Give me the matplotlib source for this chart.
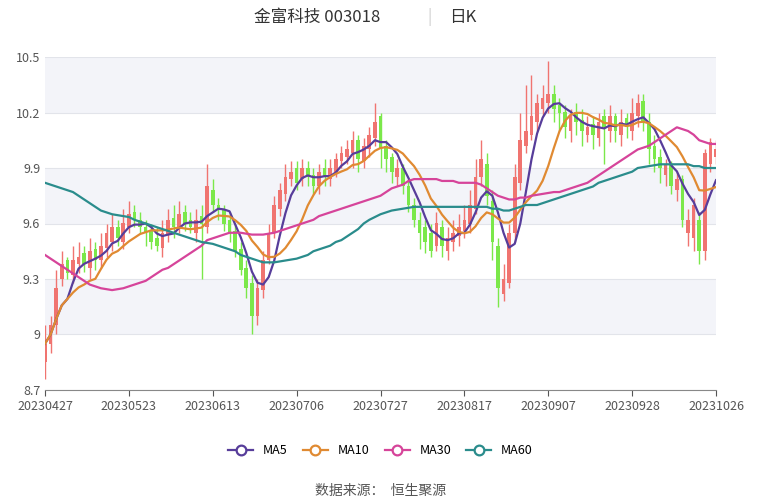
import numpy as np
import pandas as pd
import matplotlib.pyplot as plt
from matplotlib.lines import Line2D

plt.rcParams["font.family"] = ["Noto Sans CJK SC", "DejaVu Sans"]

tick_labels = ["20230427", "20230523", "20230613", "20230706", "20230727",
               "20230817", "20230907", "20230928", "20231026"]

opens = [8.85, 8.95, 9.05, 9.30, 9.40, 9.32,
         9.38, 9.44, 9.36, 9.46, 9.40, 9.47, 9.50, 9.58, 9.50, 9.58,
         9.66, 9.62, 9.58, 9.56, 9.52, 9.47, 9.54, 9.63, 9.57, 9.66,
         9.62, 9.55, 9.64, 9.58, 9.78,
         9.70, 9.68, 9.62, 9.56, 9.46, 9.36, 9.28,
         9.10, 9.24, 9.40, 9.55, 9.68,
         9.76, 9.84, 9.90, 9.84, 9.90, 9.86, 9.80, 9.90,
         9.84, 9.88, 9.94, 9.96, 9.98, 10.05, 9.94, 10.00, 10.06, 10.18,
         10.02, 9.96, 9.85, 9.90, 9.80, 9.70, 9.62, 9.58, 9.55, 9.48,
         9.58, 9.45, 9.50, 9.53, 9.56, 9.60, 9.68, 9.85, 9.92, 9.72,
         9.48, 9.22, 9.28, 9.55, 9.82,
         10.02, 10.08, 10.15, 10.22, 10.25, 10.30, 10.24,
         10.20, 10.10, 10.20, 10.16, 10.08, 10.14, 10.06, 10.18, 10.10, 10.18, 10.08, 10.17,
         10.10, 10.18, 10.26, 10.15, 10.02, 9.96,
         9.86, 9.92, 9.78, 9.84, 9.55, 9.52, 9.62, 9.45, 9.92, 9.96]
closes = [8.95, 9.05, 9.25, 9.38, 9.33, 9.40,
          9.42, 9.38, 9.45, 9.40, 9.48, 9.55, 9.58, 9.52, 9.60, 9.65,
          9.62, 9.58, 9.55, 9.50, 9.48, 9.55, 9.62, 9.58, 9.65, 9.60,
          9.58, 9.62, 9.60, 9.80, 9.70,
          9.68, 9.60, 9.55, 9.45, 9.35, 9.25, 9.10,
          9.25, 9.40, 9.55, 9.70, 9.78,
          9.85, 9.88, 9.82, 9.90, 9.85, 9.80, 9.88, 9.85,
          9.90, 9.95, 9.98, 10.00, 10.05, 9.95, 10.02, 10.08, 10.15, 10.00,
          9.95, 9.88, 9.90, 9.80, 9.70, 9.62, 9.55, 9.50, 9.45, 9.60,
          9.48, 9.52, 9.55, 9.58, 9.62, 9.70, 9.85, 9.95, 9.75, 9.50,
          9.25, 9.30, 9.55, 9.85, 10.05,
          10.10, 10.18, 10.25, 10.28, 10.30, 10.22, 10.20,
          10.12, 10.18, 10.15, 10.10, 10.12, 10.08, 10.15, 10.12, 10.18, 10.10, 10.15, 10.12,
          10.20, 10.25, 10.15, 10.00, 9.95, 9.90,
          9.92, 9.80, 9.84, 9.62, 9.62, 9.70, 9.45, 9.98, 10.04, 10.00]
highs = [9.05, 9.10, 9.35, 9.45, 9.42, 9.48,
         9.50, 9.48, 9.52, 9.50, 9.55, 9.60, 9.65, 9.62, 9.68, 9.72,
         9.70, 9.66, 9.62, 9.60, 9.58, 9.62, 9.68, 9.70, 9.72, 9.70,
         9.66, 9.68, 9.70, 9.92, 9.84,
         9.74, 9.70, 9.66, 9.60, 9.50, 9.40, 9.32,
         9.30, 9.45, 9.60, 9.75, 9.82,
         9.92, 9.94, 9.94, 9.95, 9.94, 9.90, 9.92, 9.95,
         9.95, 9.98, 10.02, 10.05, 10.10, 10.08, 10.06, 10.12, 10.25, 10.20,
         10.05, 9.98, 9.95, 9.92, 9.84, 9.74, 9.66, 9.62, 9.60, 9.66,
         9.62, 9.58, 9.62, 9.65, 9.70, 9.78, 9.95, 10.05, 9.98, 9.78,
         9.52, 9.38, 9.60, 9.92, 10.20,
         10.35, 10.40, 10.30, 10.35, 10.48, 10.35, 10.28,
         10.24, 10.22, 10.25, 10.22, 10.18, 10.18, 10.20, 10.22, 10.24, 10.20, 10.22, 10.20,
         10.28, 10.30, 10.30, 10.20, 10.08, 10.00,
         9.95, 9.94, 9.88, 9.86, 9.68, 9.74, 9.66, 10.00, 10.06, 10.05]
lows = [8.76, 8.90, 9.00, 9.26, 9.30, 9.28,
        9.33, 9.34, 9.30, 9.35, 9.36, 9.42, 9.45, 9.48, 9.46, 9.55,
        9.58, 9.55, 9.48, 9.46, 9.45, 9.42, 9.50, 9.52, 9.55, 9.56,
        9.55, 9.50, 9.30, 9.55, 9.66,
        9.62, 9.56, 9.50, 9.42, 9.32, 9.20, 9.00,
        9.05, 9.20, 9.38, 9.52, 9.64,
        9.72, 9.80, 9.78, 9.80, 9.80, 9.76, 9.76, 9.80,
        9.80, 9.85, 9.90, 9.92, 9.90, 9.88, 9.90, 9.96, 10.02, 9.90,
        9.88, 9.82, 9.80, 9.76, 9.66, 9.58, 9.46, 9.44, 9.42, 9.45,
        9.42, 9.40, 9.45, 9.48, 9.52, 9.55, 9.65, 9.80, 9.70, 9.40,
        9.15, 9.18, 9.25, 9.50, 9.78,
        9.98, 10.05, 10.10, 10.18, 10.20, 10.15, 10.10,
        10.06, 10.04, 10.08, 10.02, 10.04, 10.00, 10.02, 9.92, 10.04, 10.04, 10.02, 10.06,
        10.05, 10.12, 10.10, 9.92, 9.88, 9.82,
        9.80, 9.76, 9.72, 9.58, 9.48, 9.45, 9.38, 9.40, 9.88, 9.92]

ma30 = [9.43, 9.41, 9.39, 9.37, 9.35, 9.33, 9.31, 9.29, 9.27, 9.26,
        9.25, 9.245, 9.24, 9.245, 9.25, 9.26, 9.27, 9.28, 9.29, 9.31,
        9.33, 9.35, 9.36, 9.38, 9.40, 9.42, 9.44, 9.46, 9.48, 9.51,
        9.52, 9.53, 9.54, 9.55, 9.55, 9.55, 9.545, 9.54, 9.54, 9.54,
        9.545, 9.55, 9.56, 9.57, 9.58, 9.59, 9.60, 9.61, 9.62, 9.64,
        9.65, 9.66, 9.67, 9.68, 9.69, 9.70, 9.71, 9.72, 9.73, 9.74,
        9.75, 9.77, 9.79, 9.80, 9.81, 9.83, 9.84, 9.84, 9.84, 9.84,
        9.84, 9.83, 9.83, 9.83, 9.82, 9.82, 9.82, 9.82, 9.81, 9.79,
        9.77, 9.75, 9.74, 9.73, 9.73, 9.74, 9.74, 9.75, 9.755, 9.76,
        9.765, 9.77, 9.77, 9.78, 9.79, 9.80, 9.81, 9.82, 9.84, 9.86,
        9.88, 9.90, 9.92, 9.94, 9.96, 9.98, 10.00, 10.01, 10.02, 10.04,
        10.06, 10.08, 10.10, 10.12, 10.11, 10.10, 10.08, 10.05, 10.04, 10.03, 10.03]
ma60 = [9.82, 9.81, 9.80, 9.79, 9.78, 9.77, 9.75, 9.73, 9.71, 9.69,
        9.67, 9.66, 9.65, 9.645, 9.64, 9.635, 9.62, 9.61, 9.60, 9.59,
        9.58, 9.57, 9.56, 9.55, 9.54, 9.53, 9.52, 9.51, 9.50, 9.495,
        9.49, 9.48, 9.47, 9.46, 9.45, 9.43, 9.42, 9.41, 9.40, 9.39,
        9.39, 9.39, 9.395, 9.40, 9.405, 9.41, 9.42, 9.43, 9.45, 9.46,
        9.47, 9.48, 9.50, 9.51, 9.53, 9.55, 9.57, 9.60, 9.62, 9.635,
        9.65, 9.66, 9.67, 9.675, 9.68, 9.685, 9.69, 9.69, 9.69, 9.69,
        9.69, 9.69, 9.69, 9.69, 9.69, 9.69, 9.69, 9.69, 9.69, 9.69,
        9.68, 9.68, 9.67, 9.67, 9.68, 9.69, 9.70, 9.70, 9.70, 9.71,
        9.72, 9.73, 9.74, 9.75, 9.76, 9.77, 9.78, 9.79, 9.80, 9.82,
        9.83, 9.84, 9.85, 9.86, 9.87, 9.88, 9.90, 9.905, 9.91, 9.915,
        9.92, 9.92, 9.92, 9.92, 9.92, 9.92, 9.91, 9.91, 9.90, 9.90, 9.90]

df = pd.DataFrame({"open": opens, "close": closes, "high": highs, "low": lows})
df["ma5"] = df["close"].rolling(5, min_periods=1).mean()
df["ma10"] = df["close"].rolling(10, min_periods=1).mean()
df["ma30"] = ma30
df["ma60"] = ma60
x = np.arange(len(df))

red, green = "#f07470", "#7be84a"
fig = plt.figure(figsize=(7.61, 5), dpi=100)
ax = fig.add_axes([45 / 761, 0.22, 671 / 761, 0.666])

yt = [8.7, 9.0, 9.3, 9.6, 9.9, 10.2, 10.5]
for lo, hi in [(9.0, 9.3), (9.6, 9.9), (10.2, 10.5)]:
    ax.axhspan(lo, hi, color="#f3f4f9", lw=0, zorder=0)
for v in yt:
    ax.axhline(v, color="#e2e4ea", lw=0.8, zorder=0.5)

colors = [red if c >= o else green for o, c in zip(df["open"], df["close"])]
ax.vlines(x, df["low"], df["high"], colors=colors, lw=1, zorder=2)
ax.bar(x, (df["close"] - df["open"]).abs().clip(lower=0.008),
       bottom=df[["open", "close"]].min(axis=1), width=0.65, color=colors, zorder=2)

ma_colors = {"MA5": "#573d9a", "MA10": "#e08a32", "MA30": "#d6449a", "MA60": "#2a8c8c"}
for name, col in ma_colors.items():
    ax.plot(x, df[name.lower()], color=col, lw=1.6, zorder=3)

ax.set_xlim(0, len(df) - 1)
ax.set_ylim(8.7, 10.5)
ax.set_yticks(yt)
ax.set_yticklabels(["8.7", "9", "9.3", "9.6", "9.9", "10.2", "10.5"])
ax.set_xticks(np.arange(0, len(df), 15))
ax.set_xticklabels(tick_labels)
ax.tick_params(axis="y", length=0, labelsize=9, colors="#555555")
ax.tick_params(axis="x", length=4, labelsize=9, colors="#555555")
for s in ["top", "right", "left"]:
    ax.spines[s].set_visible(False)
ax.spines["bottom"].set_color("#888888")

fig.text(0.5, 0.965, "金富科技 003018", ha="right", va="center", fontsize=12, color="#333333")
fig.text(0.565, 0.965, "|", ha="center", va="center", fontsize=11, color="#cccccc")
fig.text(0.59, 0.965, "日K", ha="left", va="center", fontsize=12, color="#333333")

handles = [Line2D([0], [0], color=c, lw=1.6, marker="o", markersize=7,
                  markerfacecolor="white", markeredgewidth=1.6) for c in ma_colors.values()]
fig.legend(handles, list(ma_colors.keys()), loc="center", bbox_to_anchor=(0.5, 0.098),
           ncol=4, frameon=False, fontsize=9, handlelength=2, columnspacing=1.2)
fig.text(0.5, 0.018, "数据来源：  恒生聚源", ha="center", va="center", fontsize=10, color="#555555")

fig.savefig("out.png", dpi=100)
